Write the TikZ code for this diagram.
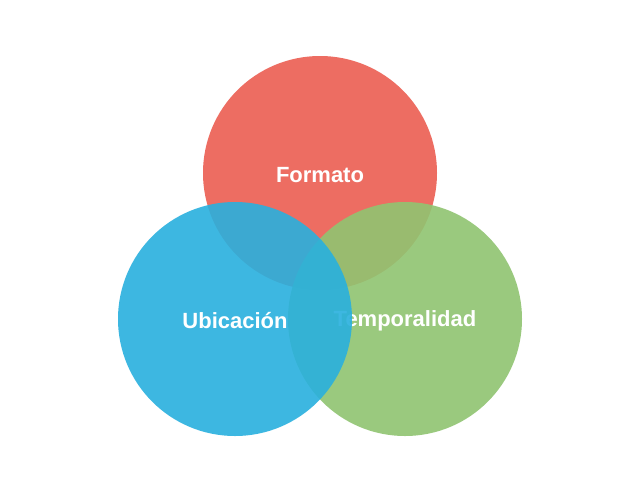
\documentclass[tikz,border=0pt]{standalone}
\usepackage{fontspec}
\setmainfont{Liberation Sans}
\begin{document}
\begin{tikzpicture}[x=1pt,y=-1pt,
  circ/.style={opacity=0.9},
  lab/.style={text=white,font=\fontsize{22}{26}\selectfont\bfseries}]
\useasboundingbox (0,0) rectangle (640,480);
\fill[white] (0,0) rectangle (640,480);
\fill[circ,fill={rgb,255:red,236;green,94;blue,82}] (320,173) circle (117);
\node[lab] (f) at (320,175) {Formato};
\fill[circ,fill={rgb,255:red,144;green,196;blue,113}] (405,319) circle (117);
\node[lab] (t) at (405,321) {Temporalidad};
\fill[circ,fill={rgb,255:red,41;green,176;blue,222}] (235,319) circle (117);
\node[lab] (u) at (235,321) {Ubicación};
\end{tikzpicture}
\end{document}
